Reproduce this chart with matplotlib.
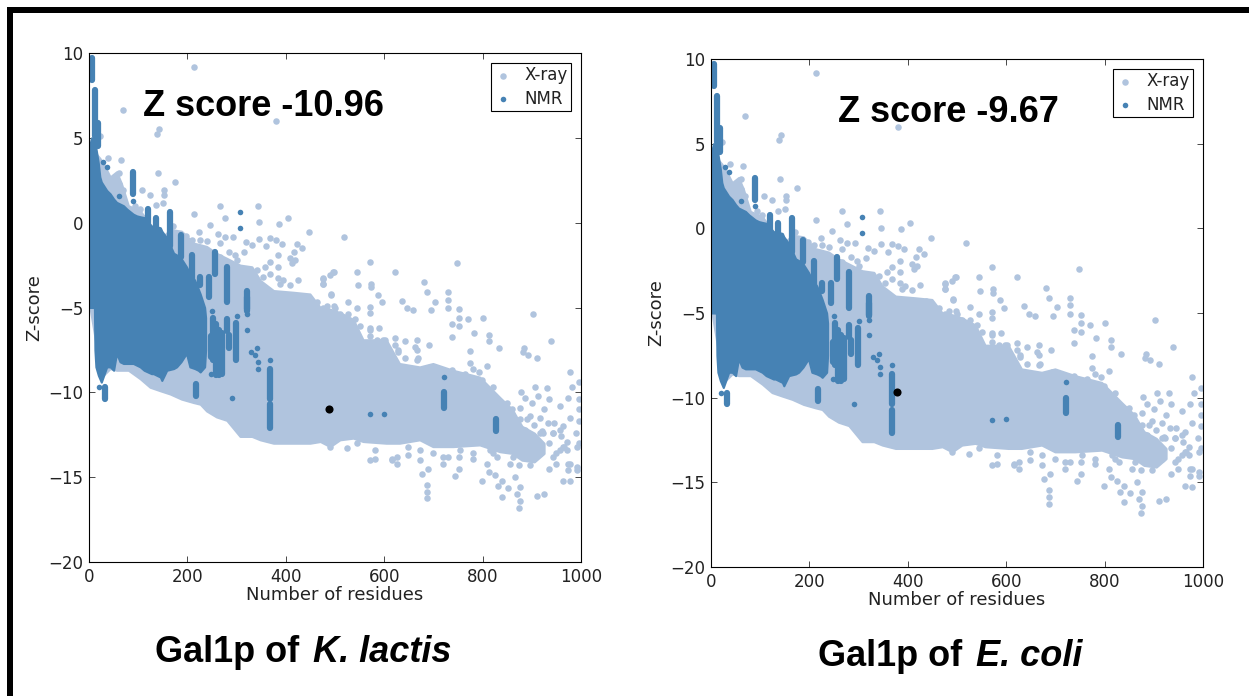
import numpy as np
import matplotlib
matplotlib.use('Agg')
import matplotlib.pyplot as plt
from matplotlib.patches import Rectangle

# dense part of the X-ray cloud, read as upper / lower edge
xray_x = [2, 22, 29, 43, 56, 66, 80, 104, 124, 144, 165, 188, 212, 226, 239, 259, 280, 307, 331, 348, 375, 415, 449, 470,
          490, 510, 537, 557, 604, 631, 672, 699, 740, 794, 835, 860, 880, 905, 925]
xray_up = [4.5, 3.8, 3.5, 2.7, 3.0, 2.3, 1.0, 0.7, -0.1, -1.0, -0.4, -0.5, -1.2, -1.3, -1.4, -1.8, -2.1, -2.5, -2.6, -3.4, -4.0, -4.1,
           -4.2, -5.0, -5.1, -5.3, -5.7, -6.9, -6.9, -8.3, -8.5, -8.3, -8.7, -9.1, -10.3, -11.0, -12.0, -12.4, -13.0]
xray_lo = [-5.0, -8.5, -9.0, -8.6, -8.7, -8.7, -8.7, -9.2, -9.7, -9.9, -10.1, -10.4, -10.6, -10.7, -11.1, -11.45, -11.65, -12.6, -12.6, -12.8,
           -13.0, -13.0, -13.0, -12.9, -13.2, -12.8, -12.7, -12.9, -13.0, -13.0, -12.8, -13.2, -13.2, -13.1, -13.5, -13.6, -14.0, -14.1, -13.6]

# single X-ray points outside the dense part
xray_px = [519, 571, 747, 621, 495, 490, 545, 476, 476, 574, 574, 546, 680, 686, 492, 730, 730, 729, 588, 596, 637, 646, 659,
           703, 695, 753, 753, 753, 771, 801, 903, 737, 737, 782, 812, 812, 940, 691, 833, 774, 884, 883, 893, 910, 774, 780,
           808, 793, 978, 995, 981, 906, 930, 879, 886, 913, 900, 896, 934, 925, 917, 974, 957, 978, 964, 932, 995, 995, 995,
           883, 896, 917, 944, 957, 944, 971, 995, 974, 991, 934, 950, 978, 963, 925, 910, 873, 876, 869, 876, 866, 852, 839,
           832, 825, 839, 799, 812, 808, 744, 688, 688, 688, 676, 690, 753, 753, 625, 615, 571, 581, 649, 673, 720, 730, 781,
           822, 856, 873, 896, 525, 490, 527, 545, 571, 571, 500, 476, 571, 590, 622, 642, 666, 666, 629, 666, 571, 602,
           214, 70, 381, 143, 138, 22, 66, 39, 141, 175, 153, 153, 107, 123, 137, 151, 266, 344, 214, 276, 346, 405, 387, 448,
           246, 224, 263, 276, 293, 346, 367, 381, 320, 331, 359, 392, 423, 433, 316, 285, 297, 368, 385, 417, 408, 419, 385,
           358, 412, 497, 476, 476, 491, 385, 388, 860, 875, 890, 905, 920, 945, 960, 990, 880, 905, 935, 965,
           # bumps along the cloud edges
           476, 490, 510, 527, 541, 551, 571, 585, 598, 622, 629, 642, 663, 669, 693, 703, 737, 751, 764, 774, 798, 801, 822,
           849, 859, 876, 886, 876, 903, 923, 944, 957, 964, 903, 883, 869, 862, 890, 917, 950, 971, 991, 978, 991, 974,
           544, 581, 615, 625, 649, 673, 700, 720, 754, 781, 815, 829,
           226, 239, 266, 300, 293, 317, 341, 354, 368, 395, 408, 425, 436, 463, 483, 497,
           29, 43, 60, 60, 70, 26, 93, 104, 148, 171, 198, 209, 226, 239, 266]
xray_py = [-0.86, -2.3, -2.4, -2.9, -2.9, -3.1, -2.9, -3.3, -3.6, -3.6, -3.8, -3.7, -3.5, -4.1, -4.26, -4.1, -4.55, -5.05, -4.26, -4.7, -4.6, -5.05, -5.15,
           -4.65, -5.15, -5.1, -5.6, -6.1, -5.7, -5.6, -5.4, -6.0, -6.75, -6.5, -6.6, -7.0, -7.0, -7.2, -7.4, -7.56, -7.4, -7.65, -7.8, -8.0, -8.25, -8.6,
           -8.45, -8.8, -8.8, -9.4, -9.7, -9.7, -9.75, -9.96, -10.35, -10.2, -10.65, -11.4, -10.4, -11.0, -11.5, -10.35, -10.8, -11.5, -12.0, -11.8, -10.4, -11.0, -11.7,
           -12.2, -13.2, -12.4, -12.4, -13.4, -13.8, -12.9, -13.0, -14.2, -14.4, -14.5, -14.2, -15.25, -15.2, -16.0, -16.1, -16.8, -16.4, -16.0, -15.6, -15.0, -15.65, -16.15,
           -15.55, -14.9, -15.2, -15.2, -14.7, -14.2, -14.95, -15.45, -15.85, -16.25, -14.8, -14.5, -13.8, -14.5, -14.2, -13.9, -14.0, -13.9, -13.7, -14.0, -14.2, -13.8, -13.9,
           -13.6, -14.2, -14.3, -14.3, -13.3, -13.2, -4.65, -5.05, -5.3, -4.95, -5.05, -5.05, -6.2, -6.2, -6.8, -7.0, -6.9, -7.5, -7.5, -8.1, -6.7, -6.9,
           9.2, 6.65, 6.0, 5.5, 5.2, 5.1, 3.7, 3.8, 2.9, 2.4, 1.9, 1.65, 1.9, 1.65, 1.05, 1.15, 1.0, 1.0, 0.5, 0.27, 0.04, 0.3, -0.06, -0.57,
           -0.14, -0.57, -0.67, -0.85, -0.85, -0.94, -0.9, -1.04, -1.14, -1.33, -1.4, -1.24, -1.24, -1.5, -1.75, -1.7, -1.9, -2.3, -1.9, -1.7, -2.1, -2.2, -2.6,
           -2.6, -2.4, -2.9, -3.25, -3.6, -4.2, -3.25, -3.6, -11.3, -10.9, -11.6, -11.9, -12.3, -11.8, -12.6, -12.4, -13.4, -13.6, -13.0, -13.2,
           -5.5, -5.6, -5.4, -5.4, -5.7, -6.1, -6.3, -6.9, -6.9, -7.2, -7.6, -8.0, -7.3, -8.0, -8.5, -8.6, -8.7, -9.1, -8.9, -9.4, -9.3, -9.9, -9.7,
           -10.6, -11.0, -11.6, -12.2, -12.6, -12.6, -12.4, -12.4, -12.2, -13.2, -13.4, -13.2, -13.0, -13.8, -13.8, -13.6, -13.6, -13.4, -13.2, -14.2, -14.6, -14.6,
           -13.0, -13.4, -14.0, -13.8, -13.2, -13.4, -13.6, -13.8, -13.4, -13.6, -13.4, -13.8,
           -1.8, -2.2, -2.0, -2.2, -2.8, -3.0, -2.8, -3.2, -3.0, -3.4, -3.65, -3.35, -4.3, -4.7, -4.9, -4.9,
           2.9, 2.5, 2.9, 2.3, 1.9, 3.3, 1.0, 0.8, -0.9, -0.2, -0.8, -1.0, -1.0, -1.1, -1.2]

# dense part of the NMR cloud
nmr_x = [1, 5, 9, 11, 12, 14, 19, 22, 25, 36, 43, 50, 56, 63, 70, 77, 90, 97, 104, 112, 127, 131, 145, 148, 158, 172, 178, 187, 198, 205, 215, 222, 226, 235, 237]
nmr_up = [4.5, 5.0, 5.0, 4.8, 4.7, 4.4, 3.5, 2.7, 2.4, 1.9, 1.7, 1.4, 1.2, 1.1, 1.0, 0.8, 0.5, 0.4, 0.35, 0.3, -0.2, -0.2, -0.3, -0.5, -0.9, -1.8, -1.9, -2.1, -2.6, -3.0, -3.4, -3.9, -4.2, -5.0, -5.6]
nmr_lo = [-5.0, -5.0, -5.0, -5.0, -7.5, -8.5, -9.0, -9.2, -9.4, -8.5, -8.5, -8.7, -7.7, -8.2, -8.3, -8.3, -8.3, -8.4, -8.5, -8.7, -8.9, -8.9, -9.1, -9.3, -8.7, -8.6, -8.5, -8.2, -7.7, -8.5, -8.6, -8.7, -8.8, -8.5, -7.5]

# NMR vertical streaks: residues, top, bottom
col_x = [7, 12, 19, 89, 119, 137, 165, 187, 209, 226, 243, 257, 280, 322, 247, 252, 258, 264, 270, 280, 285, 298, 322, 368, 368, 217, 33, 722, 827]
col_top = [9.7, 7.8, 5.9, 3.0, 0.8, 0.3, 0.6, -0.7, -1.9, -3.2, -3.2, -1.7, -2.6, -4.0, -6.7, -5.6, -6.0, -6.3, -6.5, -5.7, -6.6, -5.9, -4.4, -8.6, -10.7, -9.5, -9.7, -10.0, -11.6]
col_bot = [8.4, 5.1, 4.5, 1.7, -0.2, -0.6, -1.4, -2.0, -3.4, -3.7, -4.4, -3.0, -4.7, -5.1, -7.9, -8.1, -9.0, -9.0, -8.9, -6.4, -7.4, -8.1, -5.2, -10.4, -12.1, -10.2, -10.4, -10.9, -12.3]

# single NMR points
nmr_px = [29, 36, 60, 89, 307, 307, 322, 322, 249, 248, 300, 291, 330, 337, 343, 344, 341, 368, 21, 571, 599, 722]
nmr_py = [3.6, 3.3, 1.6, 1.3, 0.65, -0.3, -5.4, -6.3, -5.2, -8.9, -5.5, -10.35, -7.6, -7.8, -8.2, -8.6, -7.4, -8.1, -9.7, -11.3, -11.25, -9.07]

y_ticks = [-20, -15, -10, -5, 0, 5, 10]
x_ticks = [0, 200, 400, 600, 800, 1000]

# one panel per protein
panels = [
    {'box': (89, 53, 581, 562), 'pt': (487, -10.96), 'score': 'Z score -10.96', 'sx': 143, 'sy': 107},
    {'box': (711, 59, 1203, 567), 'pt': (378, -9.67), 'score': 'Z score -9.67', 'sx': 838, 'sy': 112},
]
W, H = 1249, 696
LIGHT = '#B0C4DE'
DARK = '#4682B4'
GREY = '#222222'

plt.rcParams['font.family'] = 'DejaVu Sans'
fig = plt.figure(figsize=(W / 100, H / 100), dpi=100)

# black frame on the top and the left
fig.add_artist(Rectangle((7 / W, 1 - 13 / H), 1, 6 / H, transform=fig.transFigure, color='black', lw=0))
fig.add_artist(Rectangle((7 / W, 0), 6 / W, 1 - 7 / H, transform=fig.transFigure, color='black', lw=0))

for p in panels:
    x0, y0, x1, y1 = p['box']
    ax = fig.add_axes([x0 / W, 1 - y1 / H, (x1 - x0) / W, (y1 - y0) / H])
    ax.fill_between(xray_x, xray_lo, xray_up, color=LIGHT, lw=1.5, zorder=1)
    ax.scatter(xray_px, xray_py, s=22, color=LIGHT, lw=0, zorder=1, label='X-ray')
    ax.fill_between(nmr_x, nmr_lo, nmr_up, color=DARK, lw=1.5, zorder=2)
    for cx, t, b in zip(col_x, col_top, col_bot):
        ax.plot([cx, cx], [t, b], color=DARK, lw=4.5, solid_capstyle='round', zorder=2)
    ax.scatter(nmr_px, nmr_py, s=16, color=DARK, lw=0, zorder=2, label='NMR')
    ax.scatter([p['pt'][0]], [p['pt'][1]], s=34, color='black', lw=0, zorder=3)
    ax.set_xlim(0, 1000)
    ax.set_ylim(-20, 10)
    ax.set_xticks(x_ticks)
    ax.set_yticks(y_ticks)
    ax.tick_params(direction='in', top=True, right=True, length=4, width=0.5, labelsize=12, labelcolor=GREY, pad=4)
    ax.set_xlabel('Number of residues', fontsize=13, color=GREY, labelpad=0)
    ax.set_ylabel('Z-score', fontsize=13, color=GREY, labelpad=4)
    leg = ax.legend(loc='upper right', fontsize=12, fancybox=False, edgecolor='black', framealpha=1,
                    borderaxespad=0.6, handlelength=1.0, handletextpad=0.8, labelspacing=0.33, borderpad=0.2, labelcolor=GREY)
    leg.get_frame().set_linewidth(0.8)
    fig.text(p['sx'] / W, 1 - p['sy'] / H, p['score'], fontsize=26, fontweight='bold', family='Liberation Sans',
             va='center', ha='left', color='black')

# captions under the panels
fig.text(155 / W, 1 - 653 / H, 'Gal1p of ', fontsize=26, fontweight='bold', family='Liberation Sans', va='center')
fig.text(313 / W, 1 - 653 / H, 'K. lactis', fontsize=26, fontweight='bold', style='italic', family='Liberation Sans', va='center')
fig.text(818 / W, 1 - 657 / H, 'Gal1p of ', fontsize=26, fontweight='bold', family='Liberation Sans', va='center')
fig.text(976 / W, 1 - 657 / H, 'E. coli', fontsize=26, fontweight='bold', style='italic', family='Liberation Sans', va='center')

fig.savefig('out.png', dpi=100)
